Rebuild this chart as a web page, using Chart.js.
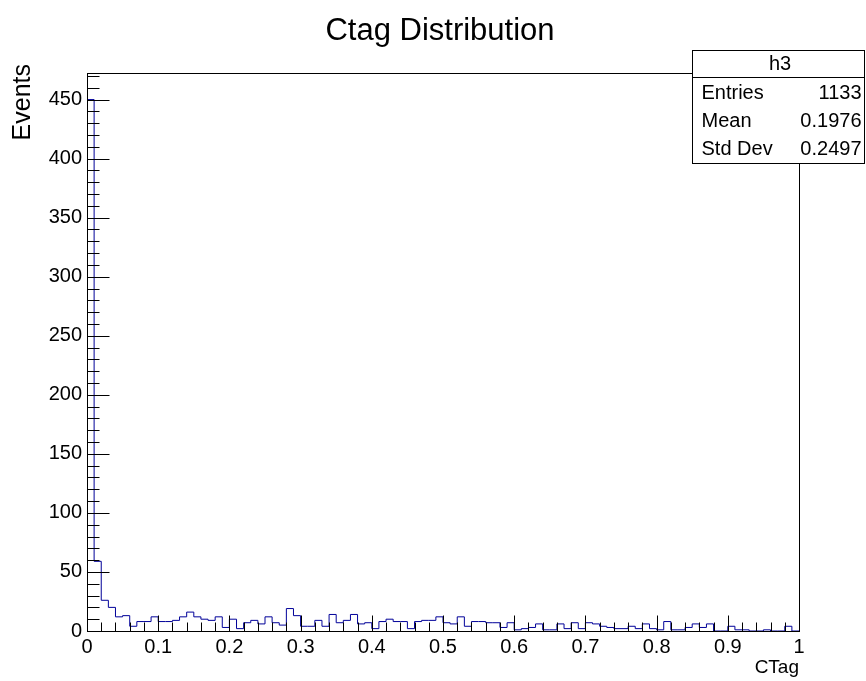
<!DOCTYPE html>
<html>
<head>
<meta charset="utf-8">
<title>Ctag Distribution</title>
<script src="https://cdn.jsdelivr.net/npm/chart.js@4"></script>
<style>
    html, body { margin: 0; padding: 0; background: #ffffff; }
    #wrap { width: 866px; height: 681px; }
</style>
</head>
<body>
<div id="wrap"><canvas id="ctagChart" width="866" height="681"></canvas></div>
<script>
// Histogram h3 : 100 bins between xMin and xMax
const xMin = 0;
const xMax = 1;
const counts = [
    450, 59, 26, 20, 12, 13, 4, 8, 8, 12,
    8, 8, 9, 12, 16, 12, 10, 9, 12, 3,
    10, 2, 7, 9, 6, 12, 7, 5, 19, 13,
    4, 4, 9, 4, 14, 7, 9, 14, 6, 7,
    2, 8, 10, 8, 8, 2, 8, 9, 9, 12,
    7, 6, 12, 4, 8, 8, 7, 7, 3, 7,
    1, 2, 3, 6, 1, 1, 6, 2, 7, 2,
    7, 6, 4, 3, 2, 2, 4, 2, 6, 2,
    1, 8, 1, 1, 3, 6, 3, 6, 0, 0,
    4, 1, 1, 0, 0, 1, 0, 0, 4, 0
];
const xTickLabels = ['0', '0.1', '0.2', '0.3', '0.4', '0.5', '0.6', '0.7', '0.8', '0.9', '1'];
const yTickValues = [0, 50, 100, 150, 200, 250, 300, 350, 400, 450];
const yMax = 472.5;

const statsName = 'h3';
const statsLabels = ['Entries', 'Mean', 'Std Dev'];
const statsValues = ['1133', '0.1976', '0.2497'];

const FONT = '"Liberation Sans", Arial, Helvetica, sans-serif';

// Build the step outline (ROOT "hist" style) from the bin counts
const binWidth = (xMax - xMin) / counts.length;
const outline = [{ x: xMin, y: 0 }];
counts.forEach(function(c, i) {
    outline.push({ x: xMin + i * binWidth, y: c });
});
outline.push({ x: xMax, y: counts[counts.length - 1] });
outline.push({ x: xMax, y: 0 });

// Frame, inward ticks, title and stats box drawn like a ROOT canvas
const rootStyle = {
    id: 'rootStyle',
    afterDatasetsDraw: function(chart) {
        const ctx = chart.ctx;
        const area = chart.chartArea;
        const xs = chart.scales.x;
        const ys = chart.scales.y;
        const L = Math.round(area.left) + 0.5;
        const R = Math.round(area.right) + 0.5;
        const T = Math.round(area.top) + 0.5;
        const B = Math.round(area.bottom) + 0.5;

        ctx.save();
        ctx.strokeStyle = '#000000';
        ctx.lineWidth = 1;
        ctx.strokeRect(L, T, R - L, B - T);

        ctx.beginPath();
        // y ticks: major every 50, minor every 10
        for (let v = 0; v <= yMax; v += 10) {
            const y = Math.round(ys.getPixelForValue(v)) + 0.5;
            const len = (v % 50 === 0) ? 22 : 12;
            ctx.moveTo(L, y);
            ctx.lineTo(L + len, y);
        }
        // x ticks: major every 0.1, minor every 0.02
        for (let k = 0; k <= 50; k++) {
            const x = Math.round(xs.getPixelForValue(xMin + k * 0.02)) + 0.5;
            const len = (k % 5 === 0) ? 16 : 9;
            ctx.moveTo(x, B);
            ctx.lineTo(x, B - len);
        }
        ctx.stroke();
        ctx.restore();
    },
    afterDraw: function(chart) {
        const ctx = chart.ctx;
        ctx.save();

        // main title
        ctx.fillStyle = '#000000';
        ctx.font = '31px ' + FONT;
        ctx.textAlign = 'center';
        ctx.textBaseline = 'middle';
        ctx.fillText('Ctag Distribution', 440, 31);

        // y axis title, right-aligned near the top of the axis
        ctx.save();
        ctx.translate(23, 64);
        ctx.rotate(-Math.PI / 2);
        ctx.font = '25px ' + FONT;
        ctx.textAlign = 'right';
        ctx.fillText('Events', 0, 0);
        ctx.restore();

        // stats box
        const bx = 692.5, by = 50.5, bw = 172, bh = 113;
        ctx.fillStyle = '#ffffff';
        ctx.fillRect(bx, by, bw, bh);
        ctx.strokeStyle = '#000000';
        ctx.lineWidth = 1;
        ctx.strokeRect(bx, by, bw, bh);
        ctx.beginPath();
        ctx.moveTo(bx, 77.5);
        ctx.lineTo(bx + bw, 77.5);
        ctx.stroke();

        ctx.fillStyle = '#000000';
        ctx.font = '20px ' + FONT;
        ctx.textAlign = 'center';
        ctx.fillText(statsName, 780, 64);
        statsLabels.forEach(function(label, i) {
            const y = 93 + i * 28;
            ctx.textAlign = 'left';
            ctx.fillText(label, bx + 9, y);
            ctx.textAlign = 'right';
            ctx.fillText(statsValues[i], bx + bw - 3, y);
        });
        ctx.restore();
    }
};

new Chart(document.getElementById('ctagChart'), {
    type: 'line',
    data: {
        datasets: [{
            label: statsName,
            data: outline,
            stepped: 'before',
            borderColor: '#000099',
            borderWidth: 1,
            pointRadius: 0,
            fill: false
        }]
    },
    options: {
        responsive: false,
        animation: false,
        layout: { padding: { top: 73, right: 67, left: 0, bottom: 0 } },
        plugins: {
            legend: { display: false },
            title: { display: false },
            tooltip: { enabled: false }
        },
        scales: {
            x: {
                type: 'linear',
                min: xMin,
                max: xMax,
                grid: { display: false, drawTicks: false },
                border: { display: false },
                ticks: {
                    stepSize: 0.1,
                    padding: 4,
                    color: '#000000',
                    font: { family: FONT, size: 20 },
                    maxRotation: 0,
                    autoSkip: false,
                    callback: function(value, index) {
                        return xTickLabels[index];
                    }
                },
                title: {
                    display: true,
                    text: 'CTag',
                    align: 'end',
                    color: '#000000',
                    font: { family: FONT, size: 19 },
                    padding: { top: 0, bottom: 2 }
                },
                afterFit: function(scale) { scale.height = 50; }
            },
            y: {
                type: 'linear',
                min: 0,
                max: yMax,
                grid: { display: false, drawTicks: false },
                border: { display: false },
                ticks: {
                    stepSize: 50,
                    padding: 5,
                    color: '#000000',
                    font: { family: FONT, size: 20 }
                },
                afterBuildTicks: function(scale) {
                    scale.ticks = yTickValues.map(function(v) { return { value: v }; });
                },
                title: { display: false },
                afterFit: function(scale) { scale.width = 87; }
            }
        }
    },
    plugins: [rootStyle]
});
</script>
</body>
</html>
